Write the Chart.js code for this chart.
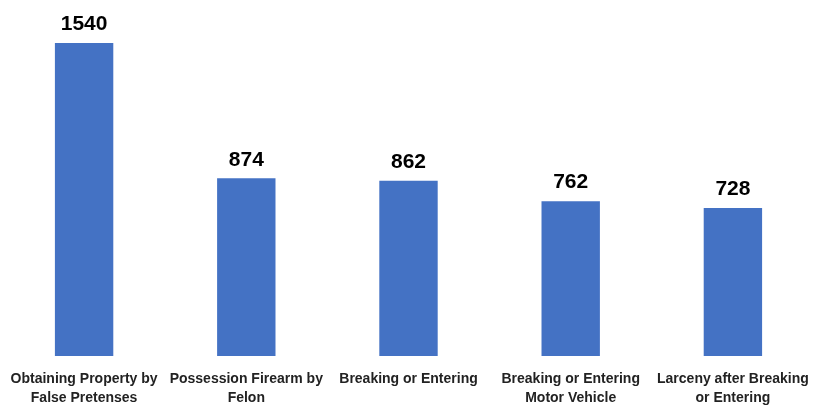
<!DOCTYPE html>
<html>
<head>
<meta charset="utf-8">
<script src="https://cdn.jsdelivr.net/npm/chart.js@4"></script>
<style>
  body { margin: 0; background: #fff; }
  #wrap { width: 821px; height: 405px; }
</style>
</head>
<body>
<div id="wrap"><canvas id="myChart" width="821" height="405"></canvas></div>
<script>
const categories = [
    ["Obtaining Property by", "False Pretenses"],
    ["Possession Firearm by", "Felon"],
    ["Breaking or Entering"],
    ["Breaking or Entering", "Motor Vehicle"],
    ["Larceny after Breaking", "or Entering"]
];
const counts = [1540, 874, 862, 762, 728];

// value labels above bars
const valueLabels = {
    id: 'valueLabels',
    afterDatasetsDraw(chart) {
        const ctx = chart.ctx;
        const meta = chart.getDatasetMeta(0);
        ctx.save();
        ctx.font = 'bold 21px "Liberation Sans", Arial, sans-serif';
        ctx.fillStyle = '#000';
        ctx.textAlign = 'center';
        ctx.textBaseline = 'bottom';
        meta.data.forEach((bar, i) => {
            ctx.fillText(counts[i], bar.x, bar.y - 8);
        });
        ctx.restore();
    }
};

const ctx = document.getElementById('myChart').getContext('2d');
const myChart = new Chart(ctx, {
    type: 'bar',
    data: {
        labels: categories,
        datasets: [{
            data: counts,
            backgroundColor: '#4472c4',
            categoryPercentage: 1,
            barPercentage: 0.36
        }]
    },
    options: {
        responsive: false,
        animation: false,
        layout: { padding: { top: 43, left: 3, right: 7, bottom: 0 } },
        scales: {
            x: {
                grid: { display: false },
                border: { display: false },
                afterFit(axis) { axis.height = 49; },
                ticks: {
                    color: '#222',
                    padding: 5,
                    maxRotation: 0,
                    autoSkip: false,
                    font: { family: '"Liberation Sans", Arial, sans-serif', size: 14, weight: 'bold', lineHeight: 1.4 }
                }
            },
            y: {
                display: false,
                min: 0,
                max: 1540
            }
        },
        plugins: {
            legend: { display: false },
            tooltip: { enabled: false }
        }
    },
    plugins: [valueLabels]
});
</script>
</body>
</html>
